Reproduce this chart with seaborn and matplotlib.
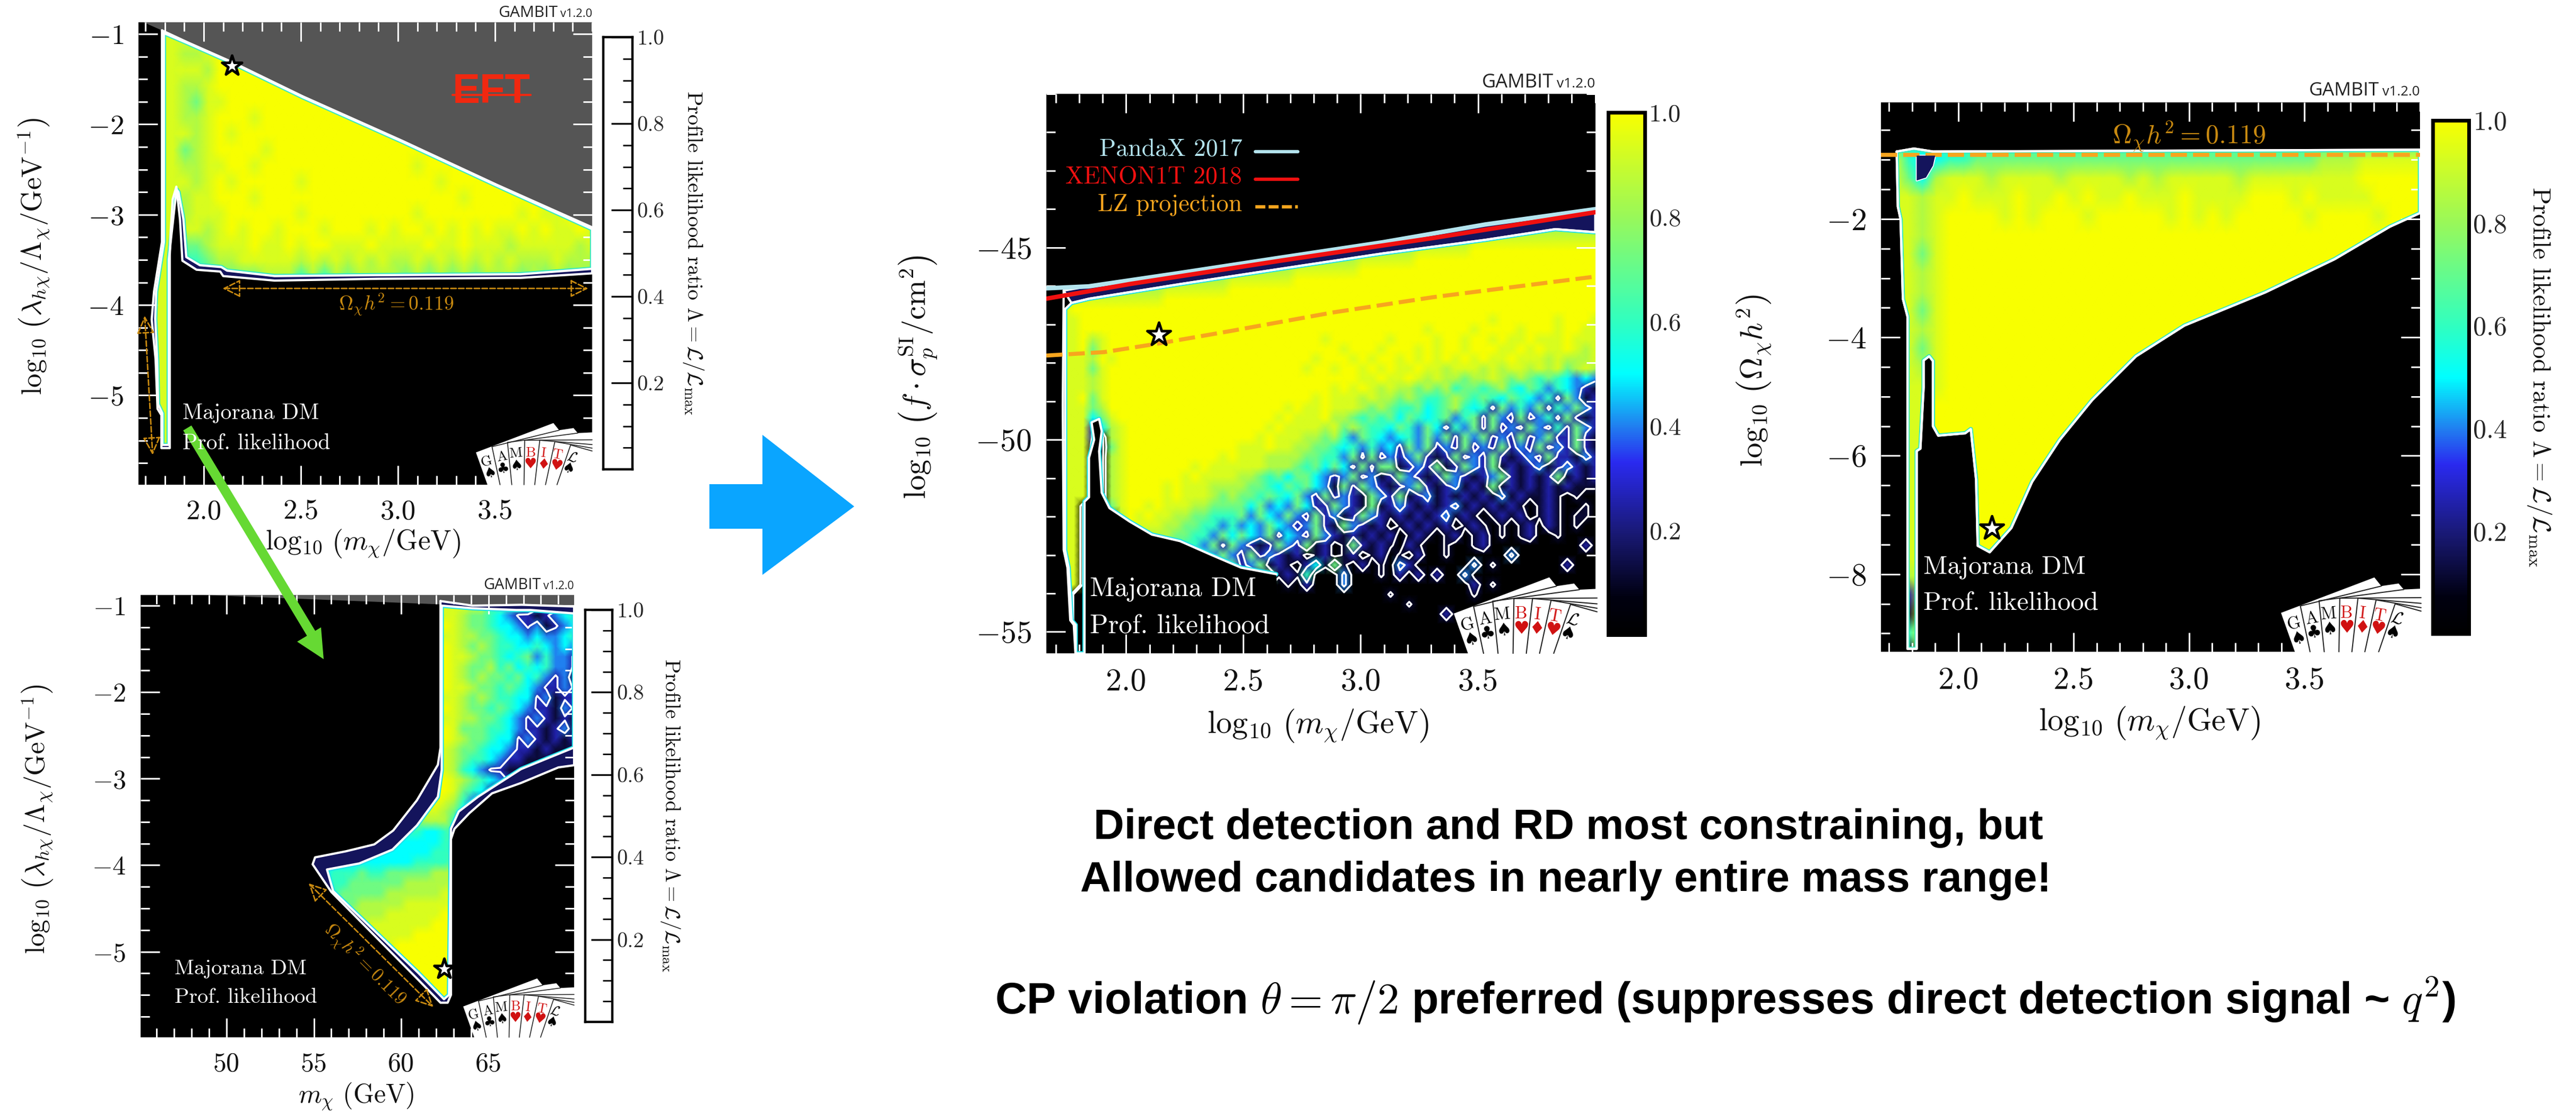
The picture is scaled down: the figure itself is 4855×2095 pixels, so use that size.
import numpy as np
import pandas as pd
import matplotlib
matplotlib.use('Agg')
import matplotlib.pyplot as plt
import seaborn as sns
from matplotlib.colors import LinearSegmentedColormap
from matplotlib.patches import Polygon
from matplotlib.ticker import MultipleLocator

W, H = 4855, 2095

# profile likelihood, one digit per cell, see DIGIT_VALUE
DIGIT_VALUE = [0.0, 0.12, 0.25, 0.4, 0.5, 0.6, 0.72, 0.85, 0.93, 1.0]

A_ROWS = [
    "8888878999999999999999999999999999999999",
    "8888888999999999999999999999999999999999",
    "8888778999999999999999999999999999999999",
    "8888887999999999999999999999999999999999",
    "8888778999999999999999999999999999999999",
    "8888768899999999999999999999999999999999",
    "8888778999899999999999999999999999999999",
    "8888878989999999999999999999999999999999",
    "8888678999989999999999999999999999999999",
    "8888778899899999999999998999999999999999",
    "8888878989999989999999999989999999999999",
    "8888788999899999999999999999899999999998",
    "8888788899999989999999998999999998988988",
    "8888887898998999899989899898989889898898",
    "8888667888988989988898888988988878888878",
    "8888556778888878787878778787878787778777",
    "8888556666677757576777767676767776767676",
    "8888888888",
] + ["8888888888"] * 12

# panel B starts at column 20, everything left of it is outside the region
B_COLUMN_START = 20
B_ROWS = [
    "999999999999888777776665443333",
    "9999999999998888885655432123",
    "9999999999998887665432212345",
    "9999999999999987665443231234",
    "9999999999999887766544343345",
    "9999999999999987676554454343",
    "9999999999999988766545635332",
    "9999999999999987667564545332",
    "9999999999999987676656453231",
    "9999999999999988766565432232",
    "9999999999999887676554423122",
    "9999999999999987665654322132",
    "9999999999999887766543232121",
    "9999999999999986665543221231",
    "9999999999999987665442321212",
    "9999999999999876654432212111",
    "9999999999999876554322111111",
    "8888888889999875432211111111",
    "7777777888999987654322211121",
    "6666667778999986542111100000",
    "5555556677899875321100000000",
    "5555555566788764211000000000",
    "5555555555677752100000000000",
    "5555555555544566666",
    "4444444444444556666",
    "44444444444455556",
    "44444444445555667",
    "45556556666677788",
    "55566666677777888",
    "55666667777778889",
    "56667777788888899",
    "66777778888889999",
    "67777888888899999",
    "77778888889999999",
    "77888888999999999",
    "78888889999999999",
    "888888899999",
    "888889999",
    "8888899999",
    "8888899999",
    "8888899999",
    "8888899999",
    "8888899999",
    "8888899999",
]

C_ROWS = ["7"] * 14 + [
    "7",
    "7777777777777777777777777777777777777777777777888888",
    "7777777777777777777777777777777777777777888888999999",
    "7777777777777777777777777777777777888888999999",
    "7777777777777777777777777778888888999999",
    "7777777777777777777788888889",
    "7777777777777888888899",
    "77788888888889",
    "7889",
    "888899999999999999999999999999999999999999999999899999989998",
    "888899999999999999999999999999999999999998999989999899989988",
    "888897899999999999999999999999899999989999899899898898889888",
    "888896899999999999999999999999998999899989899899988989889878",
    "888887989999999999999999999998999898998989898989889888787778",
    "888886899999999999999999999989989989898898878887878878786787",
    "888887899999999999999999999999999988988987877677876765654343",
    "888887899999999999999999999999989898787767675665675465354321",
    "888896899999999999999999999998988878776765567656546543526312",
    "888886799999999999999999998988988876765564567545263536253632",
    "888884689999999999999999989888977656564654563562632623526212",
    "888882478999999999999999898888786765546536425362623263252632",
    "888882078999999999999998988877675365434536362636232623622621",
    "888881068999999999999888988776654535342636232623262326232621",
    "888881078999999999989888777766553626232362126232621232622132",
    "888881078999999989888888777656464262661232612632612123123212",
    "888880078999999898888776564664323623126321263212362121261212",
    "888880078999989888777766546564316263212362123121612121212111",
    "888880078999989888767665654632623216326123121212131211210100",
    "888800068998988877666646343642263216123212123121212101210010",
    "888800007989887766555636436326231263212121231210121201210110",
    "888800007988877665535343643236216321201212120121010120210100",
    "888800007987776655364643624326321212120121012012010120010000",
    "888800007987766553626321263261201621210210010012000000000020200",
    "888800007987766555363262321201201201201020010000003000000000",
    "888800007987766555536236121024161020103200000030100000002000",
    "888800007987766555553212612150003000102020200300000000000000",
    "888800007987766555551012101020003000000000000020100000000000",
    "888000007987766555550000000000000000010000000010000000000000",
    "888000000000000000000000000000000000000100000000000000000000",
    "888000000000000000000000000000000000000000020000000000000000",
    "888000000000000000000000000000000000000000000000000000000000",
    "888000000000000000000000000000000000000000000000000000000000",
    "888000000000000000000000000000000000000000000000000000000000",
    "888000000000000000000000000000000000000000000000000000000000",
]

D_ROWS = [
    "5", "5", "5",
    "8854455666666666666666666666666677788888",
    "8864788878888788887878888878888888899999",
    "8887889888988989889888988889998988889999",
    "8887899998989998999998989899999899998999",
    "8887899999999999999999999999999999999999",
    "8886899999",
    "8887899999",
    "8887899999",
    "8886899999",
    "8887899999",
    "8886899999",
    "8887899999",
    "8888899999",
    "8888999999",
    "8888999999",
    "8888999999",
    "8888999999",
    "8888999999",
    "8888999999",
    "8888999999",
    "8888999999",
    "8888999999",
    "8878999999",
    "8828999999",
    "8818999999",
    "8858999999",
    "8818999999",
]

# region edges
A_OUTER_X = [1.785, 1.915, 2.146, 2.51, 3.02, 3.51, 4.0, 4.0, 3.63, 2.9, 2.365, 2.10, 2.085, 1.963, 1.89, 1.878, 1.859,
             1.84, 1.83, 1.825, 1.825, 1.782, 1.782, 1.762, 1.752, 1.732, 1.744, 1.785, 1.785]
A_OUTER_Y = [-0.96, -1.09, -1.31, -1.69, -2.18, -2.67, -3.14, -3.65, -3.70, -3.71, -3.73, -3.68, -3.63, -3.61, -3.51,
             -3.06, -2.69, -2.83, -3.18, -3.46, -5.585, -5.585, -5.22, -5.15, -4.6, -4.16, -3.85, -3.3, -0.96]
A_INNER_X = [1.795, 1.915, 2.146, 2.51, 3.02, 3.51, 4.0, 4.0, 3.63, 2.9, 2.365, 2.12, 2.09, 1.98, 1.91, 1.895, 1.87,
             1.86, 1.835, 1.82, 1.82, 1.787, 1.787, 1.765, 1.76, 1.75, 1.755, 1.795, 1.795]
A_INNER_Y = [-0.99, -1.10, -1.32, -1.70, -2.19, -2.68, -3.16, -3.60, -3.66, -3.67, -3.68, -3.62, -3.58, -3.56, -3.47,
             -3.05, -2.75, -2.72, -3.2, -3.5, -5.55, -5.55, -5.2, -5.1, -4.6, -4.15, -3.85, -3.3, -0.99]
A_GREY_X = [1.69, 1.785, 1.915, 2.146, 2.51, 3.02, 3.51, 4.0, 4.0, 1.69]
A_GREY_Y = [-0.87, -0.96, -1.09, -1.31, -1.69, -2.18, -2.67, -3.14, -0.87, -0.87]

B_OUTER_X = [62.25, 64.1, 66.9, 69.9, 69.9, 69.0, 66.86, 65.2, 63.9, 63.05, 62.85, 62.85, 62.66, 62.25, 61.0, 56.0, 54.93,
             55.07, 56.83, 58.46, 59.54, 60.9, 62.1, 62.25, 62.25]
B_OUTER_Y = [-0.947, -1.0, -0.99, -1.01, -2.845, -2.87, -3.05, -3.17, -3.4, -3.58, -3.70, -5.5, -5.59, -5.59, -5.33, -4.31,
             -3.99, -3.91, -3.84, -3.76, -3.6, -3.25, -2.84, -2.64, -0.947]
B_INNER_X = [62.32, 64.1, 66.6, 67.4, 69.9, 69.9, 66.86, 64.4, 63.3, 62.85, 62.74, 62.45, 61.0, 56.1, 55.75, 57.6, 59.5,
             60.9, 62.1, 62.32, 62.32]
B_INNER_Y = [-1.0, -1.03, -1.05, -1.05, -1.09, -2.64, -2.89, -3.21, -3.38, -3.58, -5.5, -5.55, -5.25, -4.3, -4.05, -3.98,
             -3.82, -3.54, -3.21, -2.9, -1.0]
B_GREY_X = [48.7, 62.25, 69.9, 69.9, 48.7]
B_GREY_Y = [-0.877, -0.985, -1.0, -0.877, -0.877]

C_OUTER_X = [1.734, 1.84, 2.23, 2.66, 3.096, 3.53, 4.0, 4.0, 3.83, 3.53, 3.096, 2.66, 2.23, 1.842, 1.767, 1.734]
C_OUTER_Y = [-46.12, -46.01, -45.66, -45.26, -44.86, -44.4, -44.0, -44.6, -44.52, -44.8, -45.15, -45.55, -45.95, -46.33, -46.44, -46.12]
C_INNER_X = [4.0, 3.83, 3.53, 3.096, 2.66, 2.23, 1.842, 1.767, 1.74, 1.74, 1.755, 1.768, 1.785, 1.785, 1.823, 1.823, 1.842,
             1.842, 1.864, 1.853, 1.885, 1.896, 1.885, 1.896, 1.929, 2.015, 2.11, 2.23, 2.36, 2.49, 2.64, 2.66, 4.0]
C_INNER_Y = [-44.6, -44.52, -44.8, -45.15, -45.55, -45.95, -46.33, -46.44, -46.6, -52.87, -53.33, -54.7, -54.82, -55.56,
             -55.56, -51.61, -51.5, -50.47, -50.0, -49.55, -49.46, -49.78, -50.3, -51.38, -51.78, -52.13, -52.47, -52.64,
             -52.99, -53.33, -53.5, -55.56, -55.56]
C_EDGE_X = [1.734, 1.73, 1.734, 1.75, 1.762, 1.777, 1.784]
C_EDGE_Y = [-46.12, -49.1, -52.87, -53.33, -54.7, -54.82, -55.56]
PANDAX_X = [1.66, 1.84, 2.23, 2.66, 3.096, 3.53, 4.0]
PANDAX_Y = [-46.06, -46.01, -45.66, -45.26, -44.86, -44.4, -44.0]
XENON_X = [1.66, 2.015, 2.66, 3.31, 4.0]
XENON_Y = [-46.33, -45.95, -45.34, -44.75, -44.08]
LZ_X = [1.66, 1.907, 2.145, 2.447, 2.88, 3.31, 4.0]
LZ_Y = [-47.81, -47.72, -47.49, -47.17, -46.69, -46.29, -45.755]

D_OUTER_X = [1.733, 1.808, 1.89, 4.0, 4.0, 3.87, 3.63, 3.33, 2.98, 2.77, 2.58, 2.44, 2.32, 2.23, 2.136, 2.084, 2.077, 2.054,
             2.03, 1.913, 1.89, 1.89, 1.874, 1.85, 1.85, 1.836, 1.82, 1.82, 1.78, 1.78, 1.76, 1.75, 1.738, 1.733]
D_OUTER_Y = [-0.86, -0.81, -0.86, -0.83, -1.9, -2.13, -2.68, -3.24, -3.8, -4.32, -5.06, -5.73, -6.44, -7.22, -7.63, -7.52,
             -6.4, -5.55, -5.62, -5.66, -5.5, -4.4, -4.32, -4.39, -4.84, -5.88, -5.92, -9.26, -9.26, -3.65, -3.35, -2.01,
             -1.79, -0.86]
D_NOTCH_X = [1.82, 1.82, 1.86, 1.89, 1.9, 1.82]
D_NOTCH_Y = [-0.93, -1.35, -1.3, -1.1, -0.93, -0.93]
RELIC_X = [1.665, 4.0]
RELIC_Y = [-0.914, -0.914]

STAR_X = [2.146, 62.47, 2.14, 2.145]
STAR_Y = [-1.354, -5.2, -47.27, -7.22]

CB_TICKS = [0.2, 0.4, 0.6, 0.8, 1.0]
CB_LABELS = ['0.2', '0.4', '0.6', '0.8', '1.0']
CMAP_COLORS = [(0.0, '#000000'), (0.07, '#000010'), (0.2, '#1a1a7a'), (0.33, '#2a2af0'), (0.4, '#2080f0'), (0.5, '#00ffff'),
               (0.6, '#30ffc0'), (0.8, '#98f85a'), (1.0, '#f8ff00')]

ORANGE = '#c98a10'
BRIGHT_ORANGE = '#f7a51e'
CB_TEXT = r'Profile likelihood ratio $\Lambda = \mathcal{L}/\mathcal{L}_{\max}$'
LAM_TEXT = r'$\log_{10}\,\left(\lambda_{h\chi}/\Lambda_\chi/\mathrm{GeV}^{-1}\right)$'
MASS_TEXT = r'$\log_{10}\,\left(m_\chi/\mathrm{GeV}\right)$'
RELIC_TEXT = r'$\Omega_\chi h^2 = 0.119$'

sns.set_style('white')
plt.rcParams['font.family'] = 'cmr10'
plt.rcParams['mathtext.fontset'] = 'cm'
plt.rcParams['axes.unicode_minus'] = False
plt.rcParams['axes.formatter.use_mathtext'] = True

like_cmap = LinearSegmentedColormap.from_list('gambit', CMAP_COLORS)
fig = plt.figure(figsize=(W / 100, H / 100), dpi=100, facecolor='white')

deco = fig.add_axes([0, 0, 1, 1], zorder=10, facecolor='none')
deco.set_xlim(0, W)
deco.set_ylim(H, 0)
deco.axis('off')


def rect(left, top, right, bottom):
    return [left / W, 1 - bottom / H, (right - left) / W, (bottom - top) / H]


def to_frame(rows, ncol, lead=0):
    cells = []
    for row in rows:
        row = (row[0] * lead + row).ljust(ncol, row[-1])[:ncol]
        cells.append([DIGIT_VALUE[int(c)] for c in row])
    return pd.DataFrame(cells)


def curve(ax, x, y, color, lw, **kws):
    sns.lineplot(x=x, y=y, ax=ax, sort=False, estimator=None, color=color, linewidth=lw, legend=False, **kws)
    return ax.lines[-1]


def style_colorbar(cax, size):
    cax.set_ylim(0, 1)
    cax.set_xticks([])
    cax.yaxis.tick_right()
    cax.set_yticks(CB_TICKS)
    cax.set_yticklabels(CB_LABELS, fontsize=size)
    cax.yaxis.set_minor_locator(MultipleLocator(0.05))
    cax.tick_params(axis='y', which='major', direction='in', length=29, width=2.4, color='black', pad=6, right=True, left=False)
    cax.tick_params(axis='y', which='minor', direction='in', length=13, width=2.0, color='black', right=True, left=False)


def draw_panel(box, xlim, ylim, frame, outer, inner, cbar_box, tick_size, cb_size, xticks, yticks, xminor, yminor,
               levels=None, halo=None, inner_stop=None, lw=3.0):
    bottom = fig.add_axes(rect(*box), zorder=1, facecolor='black')
    bottom.set_xlim(*xlim)
    bottom.set_ylim(*ylim)
    bottom.set_xticks([])
    bottom.set_yticks([])
    for s in bottom.spines.values():
        s.set_visible(False)
    bottom.fill(outer[0], outer[1], color='#14145c', lw=0)

    hax = fig.add_axes(rect(*box), zorder=2, facecolor='none')
    cax = fig.add_axes(rect(*cbar_box), zorder=4, facecolor='white')
    show_cbar = cb_size[1]
    sns.heatmap(frame, ax=hax, cmap=like_cmap, vmin=0, vmax=1, cbar=show_cbar, cbar_ax=cax if show_cbar else None,
                shading='gouraud', xticklabels=False, yticklabels=False)
    hax.set_xlim(0, frame.shape[1] - 1)
    hax.set_ylim(frame.shape[0] - 1, 0)
    hax.axis('off')
    mesh = hax.collections[0]
    if show_cbar:
        cb = mesh.colorbar
        cb.outline.set_linewidth(5)
        cb.outline.set_edgecolor('black')
    else:
        for s in cax.spines.values():
            s.set_visible(True)
            s.set_linewidth(3.2)
            s.set_color('black')
    style_colorbar(cax, cb_size[0])

    ax = fig.add_axes(rect(*box), zorder=3, facecolor='none')
    ax.set_xlim(*xlim)
    ax.set_ylim(*ylim)
    clip = Polygon(np.column_stack(inner), closed=True, transform=ax.transData)
    mesh.set_clip_path(clip)

    stop = inner_stop or len(inner[0])
    if levels:
        xn = np.linspace(xlim[0], xlim[1], frame.shape[1])
        yn = np.linspace(ylim[1], ylim[0], frame.shape[0])
        cs = ax.contour(xn, yn, frame.values, levels=levels, colors='white', linewidths=lw * 0.85)
        cs.set_clip_path(clip)
    if halo:
        line = curve(ax, inner[0][:stop], inner[1][:stop], halo, 6)
        line.set_clip_path(clip)
    curve(ax, outer[0], outer[1], 'white', lw)
    curve(ax, inner[0][:stop], inner[1][:stop], 'white', lw)

    ax.set_xticks(xticks[0])
    ax.set_xticklabels(xticks[1], fontsize=tick_size)
    ax.set_yticks(yticks[0])
    ax.set_yticklabels(yticks[1], fontsize=tick_size)
    ax.xaxis.set_minor_locator(MultipleLocator(xminor))
    ax.yaxis.set_minor_locator(MultipleLocator(yminor))
    ax.tick_params(which='major', direction='in', length=26, width=2.2, color='white', labelcolor='#111111', top=True,
                   right=True, bottom=True, left=True, pad=20)
    ax.tick_params(which='minor', direction='in', length=12, width=2.2, color='white', top=True, right=True, bottom=True, left=True)
    for s in ax.spines.values():
        s.set_visible(False)
    ax.set_xlabel('')
    ax.set_ylabel('')
    return bottom, ax


def star(ax, i, size):
    sns.scatterplot(x=[STAR_X[i]], y=[STAR_Y[i]], ax=ax, marker='*', s=size, color='white', edgecolor='black', linewidth=3.6,
                    zorder=8, legend=False)


def gambit_tag(right, base, scale):
    deco.text(right, base, 'v1.2.0', family='Open Sans', fontsize=19 * scale, ha='right', va='baseline', color='#222222')
    deco.text(right - 78 * scale, base, 'GAMBIT', family='Open Sans', fontsize=26 * scale, ha='right', va='baseline', color='#222222')


def cards(right, bottom, width):
    s = width / 270 / 3

    def px(u, v):
        return right - (930 - u) * s, bottom - (545 - v) * s

    body = [(120, 320), (660, 115), (700, 165), (800, 150), (830, 185), (930, 180), (930, 545), (200, 545)]
    deco.add_patch(Polygon([px(*p) for p in body], closed=True, fc='white', ec='none'))
    strokes = [((232, 280), (288, 545)), ((340, 250), (370, 545)), ((460, 235), (455, 545)), ((565, 235), (530, 545)),
               ((670, 245), (605, 545)), ((780, 268), (685, 545)), ((232, 280), (700, 165)), ((340, 250), (830, 185)),
               ((460, 235), (930, 232)), ((565, 235), (930, 265)), ((670, 245), (930, 290)), ((780, 268), (930, 310))]
    for a, b in strokes:
        pa, pb = px(*a), px(*b)
        deco.plot([pa[0], pb[0]], [pa[1], pb[1]], color='#222222', lw=1.5 * width / 270)
    letters = [('G', 195, 385, 15, 'black'), ('A', 300, 352, 10, 'black'), ('M', 395, 328, 5, 'black'), ('B', 500, 322, 0, '#d01010'),
               ('I', 590, 325, -6, '#d01010'), ('T', 690, 338, -10, '#d01010'), (r'$\mathcal{L}$', 790, 355, -15, 'black')]
    suits = [('\u2660', 222, 465, 15, 'black'), ('\u2663', 310, 435, 10, 'black'), ('\u2660', 405, 415, 5, 'black'), ('\u2665', 500, 405, 0, '#d01010'),
             ('\u2666', 590, 408, -6, '#d01010'), ('\u2665', 680, 415, -10, '#d01010'), ('\u2660', 765, 440, -15, 'black')]
    for text, u, v, rot, col in letters:
        x, y = px(u, v)
        deco.text(x, y, text, fontsize=24 * width / 270, rotation=rot, color=col, ha='center', va='center')
    for text, u, v, rot, col in suits:
        x, y = px(u, v)
        deco.text(x, y, text, family='DejaVu Sans', fontsize=24 * width / 270, rotation=rot, color=col, ha='center', va='center')


def relic_arrow(ax, start, end):
    ax.annotate('', xy=end, xytext=start, zorder=7,
                arrowprops=dict(arrowstyle='<|-|>,head_length=0.8,head_width=0.4', linestyle='--', ec=ORANGE, fc='none', lw=2,
                                shrinkA=0, shrinkB=0, mutation_scale=26))


# panel A
a_bottom, ax_a = draw_panel((261, 42, 1116, 914), (1.664, 4.0), (-5.99, -0.87), to_frame(A_ROWS, 40), (A_OUTER_X, A_OUTER_Y), (A_INNER_X, A_INNER_Y),
                            (1137, 70, 1192, 885), 38, (29, False), ([2.0, 2.5, 3.0, 3.5], ['2.0', '2.5', '3.0', '3.5']),
                            ([-5, -4, -3, -2, -1], ['$-5$', '$-4$', '$-3$', '$-2$', '$-1$']), 0.1, 0.25, halo='#38e8c0')
a_bottom.fill(A_GREY_X, A_GREY_Y, color='#555555', lw=0, zorder=0)
star(ax_a, 0, 800)
relic_arrow(ax_a, (2.097, -3.817), (3.98, -3.817))
relic_arrow(ax_a, (1.696, -4.12), (1.737, -5.66))
ax_a.text(2.99, -4.0, RELIC_TEXT, color=ORANGE, fontsize=27, ha='center', va='center')

# panel B
b_bottom, ax_b = draw_panel((265, 1122, 1082, 1956), (45.08, 69.9), (-5.99, -0.877), to_frame(B_ROWS, 48, B_COLUMN_START), (B_OUTER_X, B_OUTER_Y), (B_INNER_X, B_INNER_Y),
                            (1103, 1150, 1154, 1927), 36, (29, False), ([50, 55, 60, 65], ['50', '55', '60', '65']),
                            ([-5, -4, -3, -2, -1], ['$-5$', '$-4$', '$-3$', '$-2$', '$-1$']), 1, 0.25, levels=[0.28], halo='#20e0e8')
b_bottom.fill(B_GREY_X, B_GREY_Y, color='#555555', lw=0, zorder=0)
star(ax_b, 1, 800)
relic_arrow(ax_b, (54.7, -4.21), (61.84, -5.64))
ax_b.text(57.9, -5.15, RELIC_TEXT, color=ORANGE, fontsize=25, rotation=-45, ha='center', va='center', rotation_mode='anchor')

# panel C
c_bottom, ax_c = draw_panel((1972, 177, 3006.6, 1232), (1.66, 4.0), (-55.56, -41.0), to_frame(C_ROWS, 60), (C_OUTER_X, C_OUTER_Y), (C_INNER_X, C_INNER_Y),
                            (3031, 212, 3100, 1197), 43, (34, True), ([2.0, 2.5, 3.0, 3.5], ['2.0', '2.5', '3.0', '3.5']),
                            ([-55, -50, -45], ['$-55$', '$-50$', '$-45$']), 0.1, 1, levels=[0.09, 0.32], halo='#20e0e8', inner_stop=31)
curve(ax_c, C_EDGE_X, C_EDGE_Y, 'white', 3.0)
curve(ax_c, PANDAX_X, PANDAX_Y, '#b4e4ee', 6)
curve(ax_c, XENON_X, XENON_Y, '#f01010', 6)
curve(ax_c, LZ_X, LZ_Y, BRIGHT_ORANGE, 5.5, linestyle=(0, (4, 1.5)))
star(ax_c, 2, 1100)

# panel D
d_bottom, ax_d = draw_panel((3545, 193, 4561, 1229), (1.665, 4.0), (-9.31, -0.03), to_frame(D_ROWS, 40), (D_OUTER_X, D_OUTER_Y), (D_OUTER_X, D_OUTER_Y),
                            (4585, 227, 4653, 1195), 43, (36, True), ([2.0, 2.5, 3.0, 3.5], ['2.0', '2.5', '3.0', '3.5']),
                            ([-8, -6, -4, -2], ['$-8$', '$-6$', '$-4$', '$-2$']), 0.1, 0.5, halo='#38e8c0')
ax_d.fill(D_NOTCH_X, D_NOTCH_Y, color='#14145c', lw=0, zorder=5)
curve(ax_d, D_NOTCH_X, D_NOTCH_Y, 'white', 2.6)
curve(ax_d, RELIC_X, RELIC_Y, BRIGHT_ORANGE, 5.5, linestyle=(0, (4, 1.5)))
ax_d.text(3.0, -0.6, RELIC_TEXT, color=ORANGE, fontsize=36, ha='center', va='center')
star(ax_d, 3, 1100)

# axis titles
for x, y, text, size, rot in [
    (684, 1025, MASS_TEXT, 38, 0), (65, 484, LAM_TEXT, 38, 90), (1306, 477, CB_TEXT, 29, 270),
    (671, 2067, r'$m_\chi\ (\mathrm{GeV})$', 36, 0), (71, 1545, LAM_TEXT, 37, 90), (1263, 1538, CB_TEXT, 28, 270),
    (2484, 1369, MASS_TEXT, 43, 0), (1731, 711, r'$\log_{10}\,\left(f\cdot\sigma_p^{\mathrm{SI}}/\mathrm{cm}^2\right)$', 42, 90),
    (4051, 1364, MASS_TEXT, 43, 0), (3306, 718, r'$\log_{10}\,\left(\Omega_\chi h^2\right)$', 42, 90), (4786, 711, CB_TEXT, 34, 270),
]:
    deco.text(x, y, text, fontsize=size, rotation=rot, ha='center', va='center', color='#111111')

for x, y1, y2, size in [(344, 790, 847, 30), (329, 1837, 1891, 29), (2054, 1124, 1193, 36.6), (3625, 1081, 1149, 35.6)]:
    deco.text(x, y1, 'Majorana DM', fontsize=size, color='white', va='baseline')
    deco.text(x, y2, 'Prof. likelihood', fontsize=size, color='white', va='baseline')

gambit_tag(1116, 32, 0.83)
gambit_tag(1082, 1111, 0.8)
gambit_tag(3006, 165, 1.0)
gambit_tag(4561, 180, 0.98)

cards(1116, 914, 219)
cards(1082, 1956, 209)
cards(3010, 1232, 270)
cards(4563, 1229, 264)

# legend of panel C
for y, text, col, style in [(282, 'PandaX 2017', '#b4e4ee', '-'), (334, 'XENON1T 2018', '#f01010', '-'), (386, 'LZ projection', BRIGHT_ORANGE, (0, (3, 1)))]:
    deco.text(2341, y, text, fontsize=33, color=col, ha='right', va='center')
    deco.plot([2366, 2446], [y + 4, y + 4], color=col, lw=4.5, ls=style)

# EFT tag
deco.text(926, 173, 'EFT', family='Liberation Sans', weight='bold', fontsize=56, color='#f02810', ha='center', va='center')
deco.plot([853, 1000], [179, 179], color='#f02810', lw=3)

# arrows between the panels
deco.add_patch(Polygon([(1337, 913), (1437, 913), (1437, 820), (1610, 955), (1437, 1084), (1437, 997), (1337, 997)], closed=True, fc='#0aa5ff', ec='none'))
deco.plot([353, 588], [807, 1197], color='#66d933', lw=13, solid_capstyle='butt')
deco.add_patch(Polygon([(560, 1210), (605, 1183), (610, 1243)], closed=True, fc='#66d933', ec='none'))

# notes
for x, y, text, size in [
    (2956, 1582, 'Direct detection and RD most constraining, but', 57.5),
    (2951, 1681, 'Allowed candidates in nearly entire mass range!', 57.5),
    (3252, 1912, r'CP violation $\theta = \pi/2$ preferred (suppresses direct detection signal ~ $q^2$)', 59.5),
]:
    deco.text(x, y, text, family='Liberation Sans', weight='bold', fontsize=size, color='black', ha='center', va='baseline')

fig.savefig('out.png', dpi=100)
